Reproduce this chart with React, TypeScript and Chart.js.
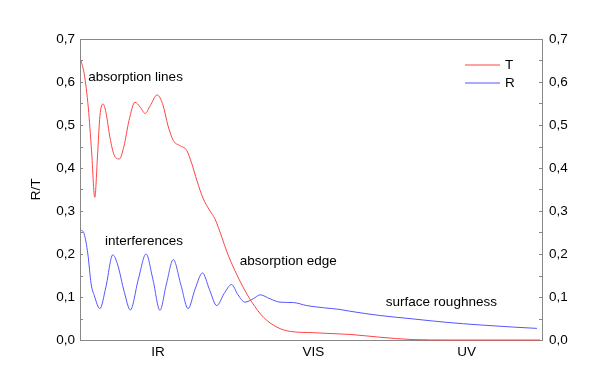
import { useEffect, useRef } from 'react';
import { Chart, registerables } from 'chart.js';

Chart.register(...registerables);

// Transmission T (red)
const energyT = [0.2, 0.9, 1.8, 2.5, 3.2, 3.8, 4.3, 5.0, 5.6, 6.5, 7.4, 8.5, 9.5, 10.6, 11.9, 13.0, 14.1, 15.2, 16.7, 18.0, 19.0, 20.2, 21.6, 23.1, 24.2, 25.3, 26.7, 28.1, 29.2, 30.7, 31.8, 33.5, 35.3, 37.2, 39.7, 42.6, 45.5, 50.5, 56.3, 58.4, 64.9, 72.1, 80.1, 99.6];
const transmission = [0.65, 0.62, 0.54, 0.44, 0.332, 0.43, 0.52, 0.549, 0.53, 0.47, 0.43, 0.421, 0.45, 0.51, 0.553, 0.542, 0.527, 0.545, 0.57, 0.545, 0.5, 0.464, 0.452, 0.441, 0.41, 0.371, 0.328, 0.301, 0.282, 0.239, 0.205, 0.162, 0.123, 0.088, 0.053, 0.03, 0.02, 0.017, 0.014, 0.013, 0.0065, 0.001, 0, 0];

// Reflection R (blue)
const energyR = [0.2, 0.9, 1.7, 2.4, 3.1, 4.3, 5.6, 7.1, 8.1, 9.6, 10.9, 12.6, 14.3, 15.8, 17.3, 18.7, 20.2, 21.8, 23.4, 24.9, 26.5, 28.0, 29.6, 31.2, 32.8, 34.2, 35.7, 37.5, 39.0, 41.1, 43.3, 46.2, 49.1, 52.7, 56.3, 58.4, 64.9, 72.1, 79.4, 86.6, 93.8, 98.9];
const reflection = [0.256, 0.247, 0.2, 0.131, 0.103, 0.073, 0.123, 0.198, 0.177, 0.111, 0.07, 0.14, 0.2, 0.14, 0.069, 0.13, 0.187, 0.13, 0.073, 0.118, 0.156, 0.118, 0.08, 0.108, 0.129, 0.105, 0.088, 0.096, 0.105, 0.096, 0.088, 0.087, 0.08, 0.075, 0.071, 0.067, 0.057, 0.049, 0.041, 0.035, 0.03, 0.027];

const regionPositions = [16.9, 50.5, 83.7];
const regionLabels = ['IR', 'VIS', 'UV'];

const annotationTexts = ['absorption lines', 'interferences', 'absorption edge', 'surface roughness'];
const annotationX = [1.8, 5.4, 34.6, 66.2];
const annotationY = [0.61, 0.229, 0.183, 0.087];

const seriesLabels = ['T', 'R'];
const seriesColors = ['#ff4444', '#5555ff'];

const FONT = '"Liberation Sans", Arial, sans-serif';
const FSIZE = 13.5;

const framePlugin = {
  id: 'frame',
  beforeDatasetsDraw(chart: any) {
    const { ctx, chartArea } = chart;
    const { left, right, top, bottom } = chartArea;
    const y = chart.scales.y;
    ctx.save();
    ctx.strokeStyle = '#888888';
    ctx.lineWidth = 1;
    ctx.strokeRect(Math.round(left) + 0.5, Math.round(top) + 0.5, Math.round(right - left), Math.round(bottom - top));
    ctx.beginPath();
    for (let i = 0; i <= 14; i++) {
      const py = Math.round(y.getPixelForValue(i * 0.05)) + 0.5;
      ctx.moveTo(left, py);
      ctx.lineTo(left + 3, py);
      ctx.moveTo(right - 3, py);
      ctx.lineTo(right, py);
    }
    ctx.stroke();
    ctx.restore();
  },
  afterDatasetsDraw(chart: any) {
    const { ctx, chartArea } = chart;
    const xs = chart.scales.x;
    const ys = chart.scales.y;
    ctx.save();
    ctx.fillStyle = '#000';
    ctx.font = `${FSIZE}px ${FONT}`;
    ctx.textBaseline = 'middle';
    ctx.textAlign = 'left';
    annotationTexts.forEach((t, i) => {
      ctx.fillText(t, xs.getPixelForValue(annotationX[i]), ys.getPixelForValue(annotationY[i]));
    });
    // legend
    const lx0 = chartArea.right - 77;
    const lx1 = chartArea.right - 42;
    seriesLabels.forEach((lab, i) => {
      const ly = chartArea.top + 26 + i * 18;
      ctx.strokeStyle = seriesColors[i];
      ctx.lineWidth = 1;
      ctx.beginPath();
      ctx.moveTo(lx0, ly);
      ctx.lineTo(lx1, ly);
      ctx.stroke();
      ctx.fillText(lab, lx1 + 5, ly);
    });
    ctx.restore();
  },
};

export default function App() {
  const ref = useRef<HTMLCanvasElement>(null);
  useEffect(() => {
    if (!ref.current) return;
    const fmt = (v: any) => Number(v).toFixed(1).replace('.', ',');
    const chart = new Chart(ref.current, {
      type: 'line',
      data: {
        datasets: [
          {
            label: seriesLabels[0],
            data: energyT.map((x, i) => ({ x, y: transmission[i] })),
            borderColor: seriesColors[0],
            borderWidth: 1,
            pointRadius: 0,
            cubicInterpolationMode: 'monotone',
            clip: false,
            yAxisID: 'y',
          },
          {
            label: seriesLabels[1],
            data: energyR.map((x, i) => ({ x, y: reflection[i] })),
            borderColor: seriesColors[1],
            borderWidth: 1,
            pointRadius: 0,
            cubicInterpolationMode: 'monotone',
            clip: false,
            yAxisID: 'y',
          },
        ],
      } as any,
      options: {
        responsive: false,
        animation: false,
        layout: { padding: { top: 39, left: 0, right: 0, bottom: 0 } },
        plugins: { legend: { display: false }, tooltip: { enabled: false } },
        scales: {
          x: {
            type: 'linear',
            min: 0,
            max: 100,
            grid: { display: false, drawTicks: false },
            border: { display: false },
            afterBuildTicks: (s: any) => {
              s.ticks = regionPositions.map((v) => ({ value: v }));
            },
            afterFit: (s: any) => {
              s.height = 49;
            },
            ticks: {
              autoSkip: false,
              maxRotation: 0,
              padding: 4,
              color: '#000',
              font: { family: FONT, size: FSIZE },
              callback: (_v: any, i: number) => regionLabels[i],
            },
          },
          y: {
            min: 0,
            max: 0.7,
            position: 'left',
            grid: { display: false, drawTicks: false },
            border: { display: false },
            afterFit: (s: any) => {
              s.width = 80;
            },
            title: {
              display: true,
              text: 'R/T',
              color: '#000',
              font: { family: FONT, size: FSIZE },
              padding: { top: 28, bottom: 0 },
            },
            ticks: {
              stepSize: 0.1,
              padding: 5,
              color: '#000',
              font: { family: FONT, size: FSIZE },
              callback: fmt,
            },
          },
          y2: {
            min: 0,
            max: 0.7,
            position: 'right',
            grid: { display: false, drawTicks: false },
            border: { display: false },
            afterFit: (s: any) => {
              s.width = 58;
            },
            ticks: {
              stepSize: 0.1,
              padding: 7,
              color: '#000',
              font: { family: FONT, size: FSIZE },
              callback: fmt,
            },
          },
        },
      } as any,
      plugins: [framePlugin],
    });
    return () => chart.destroy();
  }, []);
  return (
    <div style={{ position: 'fixed', left: 0, top: 0, width: 600, height: 389, background: '#fff' }}>
      <canvas ref={ref} width={600} height={389} style={{ display: 'block' }} />
    </div>
  );
}
